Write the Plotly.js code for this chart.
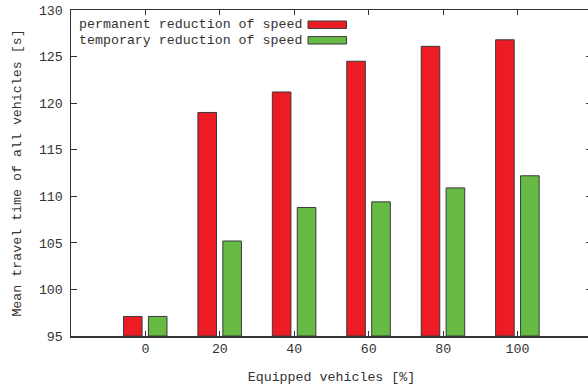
<!DOCTYPE html>
<html>
<head>
<meta charset="utf-8">
<script src="https://cdn.plot.ly/plotly-3.0.1.min.js"></script>
<style>
html,body{margin:0;padding:0;overflow:hidden;background:#fff;}
#chart{width:600px;height:390px;}
</style>
</head>
<body>
<div id="chart"></div>
<script>
const categories = [0, 20, 40, 60, 80, 100];
const seriesNames = ["permanent reduction of speed", "temporary reduction of speed"];
const permanentValues = [97.1, 119.0, 121.2, 124.5, 126.1, 126.8];
const temporaryValues = [97.1, 105.2, 108.8, 109.4, 110.9, 112.2];
const xTickLabels = ["0", "20", "40", "60", "80", "100"];
const yTickValues = [95, 100, 105, 110, 115, 120, 125, 130];
const xTitle = "Equipped vehicles [%]";
const yTitle = "Mean travel time of all vehicles [s]";
const baseValue = 95;

const colors = ["#ED1C24", "#67BB45"];
const font = {family: "Liberation Mono", size: 13.3, color: "#333"};

const traces = [
  {type: "bar", name: seriesNames[0], x: categories, y: permanentValues.map(v => v - baseValue), base: baseValue,
   width: 5, offset: -5.9,
   marker: {color: colors[0], line: {color: "#3a3a3a", width: 1}}, showlegend: false},
  {type: "bar", name: seriesNames[1], x: categories, y: temporaryValues.map(v => v - baseValue), base: baseValue,
   width: 5, offset: 0.8,
   marker: {color: colors[1], line: {color: "#3a3a3a", width: 1}}, showlegend: false}
];

const annotations = [];
const shapes = [];
seriesNames.forEach((n, i) => {
  annotations.push({xref: "paper", yref: "paper", x: (303 - 71) / 521, y: (336 - (24.5 + i * 15.5)) / 326,
    xanchor: "right", yanchor: "middle", text: n, showarrow: false, font: font, borderpad: 0});
  shapes.push({type: "rect", xref: "paper", yref: "paper",
    x0: (308 - 71) / 521, x1: (346.5 - 71) / 521,
    y0: (336 - (21 + i * 15.6)) / 326, y1: (336 - (28.4 + i * 15.6)) / 326,
    fillcolor: colors[i], line: {color: "#3a3a3a", width: 1}});
});

const layout = {
  width: 600, height: 390,
  margin: {l: 71, r: 8, t: 10, b: 54},
  paper_bgcolor: "#fff", plot_bgcolor: "#fff",
  font: font,
  barmode: "overlay",
  showlegend: false,
  xaxis: {
    range: [-20, 120], tickvals: categories, ticktext: xTickLabels,
    ticks: "inside", ticklen: 5, tickwidth: 1, tickcolor: "#333",
    showline: true, linecolor: "#333", linewidth: 1.5, mirror: "ticks",
    showgrid: false, zeroline: false,
    tickfont: font,
    title: {text: xTitle, font: font, standoff: 15}
  },
  yaxis: {
    range: [95, 130], tickvals: yTickValues,
    ticks: "inside", ticklen: 6, tickwidth: 1, tickcolor: "#333",
    showline: true, linecolor: "#333", linewidth: 1.5, mirror: "ticks",
    showgrid: false, zeroline: false,
    ticklabelstandoff: 4,
    tickfont: font,
    title: {text: yTitle, font: font, standoff: 14}
  },
  annotations: annotations,
  shapes: shapes
};

Plotly.newPlot("chart", traces, layout, {displayModeBar: false, staticPlot: true});
</script>
</body>
</html>
